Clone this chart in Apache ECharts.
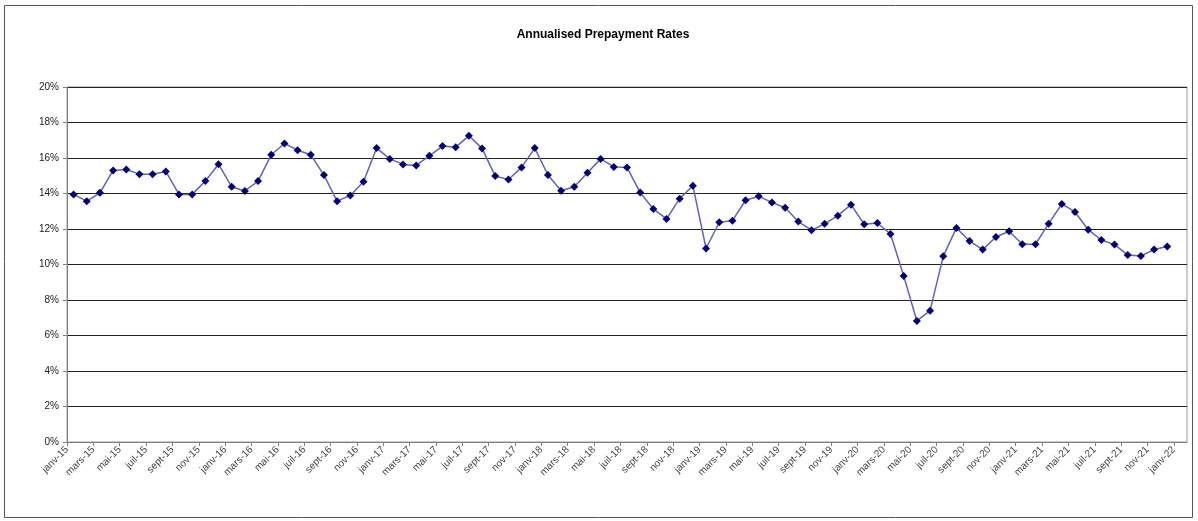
<!DOCTYPE html>
<html lang="fr">
<head>
  <meta charset="UTF-8">
  <title>Annualised Prepayment Rates</title>
  <style>
    html, body { margin: 0; height: 100%; width: 100%; background: #fff; }
  </style>
</head>
<body>
  <div id="chart" style="width:1198px;height:521px"></div>
  <script src="https://cdn.jsdelivr.net/npm/echarts@6/dist/echarts.min.js"></script>
  <script>
    // month labels, french style, one per month from janv-15
    const monthNames = ['janv', 'févr', 'mars', 'avr', 'mai', 'juin', 'juil', 'août', 'sept', 'oct', 'nov', 'déc']
    const years = ['15', '16', '17', '18', '19', '20', '21', '22']
    const months = []
    years.forEach(function (y) {
      monthNames.forEach(function (m) { months.push(m + '-' + y) })
    })

    // annualised prepayment rate, % (janv-15 .. déc-21)
    const rates = [
      13.95, 13.57, 14.04, 15.30, 15.35, 15.09, 15.09, 15.24, 13.95, 13.95, 14.70, 15.65,
      14.38, 14.14, 14.70, 16.18, 16.82, 16.44, 16.18, 15.04, 13.57, 13.89, 14.66, 16.56,
      15.95, 15.64, 15.58, 16.12, 16.67, 16.61, 17.25, 16.54, 14.98, 14.79, 15.47, 16.56,
      15.04, 14.15, 14.38, 15.17, 15.95, 15.50, 15.47, 14.05, 13.13, 12.57, 13.71, 14.44,
      10.90, 12.38, 12.47, 13.62, 13.84, 13.50, 13.20, 12.42, 11.93, 12.29, 12.75, 13.37,
      12.27, 12.34, 11.72, 9.35, 6.82, 7.40, 10.46, 12.06, 11.32, 10.84, 11.55, 11.87,
      11.14, 11.14, 12.30, 13.41, 12.96, 11.96, 11.38, 11.12, 10.54, 10.48, 10.84, 11.01
    ]

    const font = 'Liberation Sans, Arial, sans-serif'

    const option = {
      animation: false,
      title: {
        text: 'Annualised Prepayment Rates',
        left: 598,
        textAlign: 'center',
        top: 24,
        textStyle: { fontFamily: font, fontSize: 12, fontWeight: 'bold', color: '#000' }
      },
      graphic: [{
        type: 'rect',
        shape: { x: 4.5, y: 5.5, width: 1188, height: 512 },
        style: { fill: 'none', stroke: '#555', lineWidth: 1 },
        silent: true
      }],
      grid: {
        left: 67, top: 87, width: 1120, height: 355,
        show: true, borderColor: '#999', borderWidth: 1
      },
      xAxis: {
        type: 'value',
        min: 0,
        max: 85,
        interval: 2,
        splitLine: { show: false },
        axisLine: { lineStyle: { color: '#808080', width: 1 } },
        axisTick: { show: true, length: 4, lineStyle: { color: '#808080' } },
        axisLabel: {
          rotate: 45,
          showMaxLabel: false,
          fontFamily: font,
          fontSize: 10,
          color: '#444',
          margin: 6,
          formatter: function (v) {
            return v <= 84 ? months[v] : ''
          }
        }
      },
      yAxis: {
        type: 'value',
        min: 0,
        max: 20,
        interval: 2,
        axisLine: { show: true, lineStyle: { color: '#808080' } },
        axisTick: { show: true, length: 4, lineStyle: { color: '#808080' } },
        splitLine: { lineStyle: { color: '#222', width: 1 } },
        axisLabel: {
          fontFamily: font,
          fontSize: 10,
          color: '#222',
          margin: 8,
          formatter: '{value}%'
        }
      },
      series: [{
        type: 'line',
        data: rates.map(function (v, i) { return [i + 0.5, v] }),
        symbol: 'diamond',
        symbolSize: 8,
        itemStyle: { color: '#000080' },
        lineStyle: { color: '#6262b8', width: 1.5 }
      }]
    }

    const myChart = echarts.init(document.getElementById('chart'))
    myChart.setOption(option)
  </script>
</body>
</html>
